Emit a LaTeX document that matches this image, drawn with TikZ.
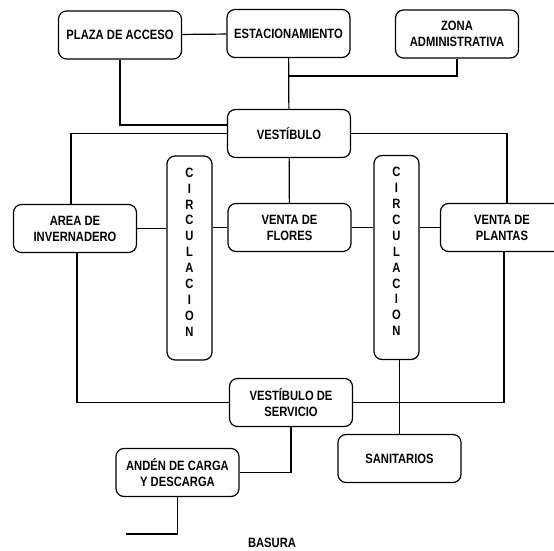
\documentclass[tikz,border=0pt]{standalone}
\usepackage{fontspec}
\setmainfont{Liberation Sans}[FakeStretch=0.83]

\begin{document}
\begin{tikzpicture}[x=1pt, y=-1pt, line width=1.2pt,
  espacio/.style={draw, rounded corners=8pt, minimum width=123pt, minimum height=48pt,
    align=center, inner sep=2pt, font=\bfseries\fontsize{13.5}{16}\selectfont},
  circul/.style={espacio, minimum width=45pt, minimum height=204pt, text depth=12pt,
    font=\bfseries\fontsize{13.5}{15.9}\selectfont}]
\useasboundingbox (0,0) rectangle (554,551);
\node[espacio] (plaza) at (120,35) {PLAZA DE ACCESO};
\node[espacio] (estac) at (288.5,33.5) {ESTACIONAMIENTO};
\node[espacio] (zona) at (457,34) {ZONA\\ADMINISTRATIVA};
\node[espacio] (vest) at (289,133.5) {VESTÍBULO};
\node[circul] (circA) at (189.5,258) {C\\I\\R\\C\\U\\L\\A\\C\\I\\O\\N};
\node[circul] (circB) at (396.5,257.5) {C\\I\\R\\C\\U\\L\\A\\C\\I\\O\\N};
\node[espacio] (area) at (75,228.5) {AREA DE\\INVERNADERO};
\node[espacio] (flores) at (289.5,227.5) {VENTA DE\\FLORES};
\node[espacio] (plantas) at (502,227.5) {VENTA DE\\PLANTAS};
\node[espacio] (vserv) at (291,402.5) {VESTÍBULO DE\\SERVICIO};
\node[espacio] (sanit) at (399.5,458.5) {SANITARIOS};
\node[espacio] (anden) at (177.5,472.5) {ANDÉN DE CARGA\\Y DESCARGA};
\node[font=\bfseries\fontsize{13.5}{16}\selectfont] (basura) at (272,543) {BASURA};
\coordinate (ramal) at (289,76);
\coordinate (basFin) at (126,534);
\draw (plaza) -- (estac);
\draw (plaza.south) |- ([yshift=8.5pt]vest.west);
\draw (estac) -- (vest);
\draw (ramal) -| (zona.south);
\draw (vest.west) -| ([xshift=-4pt]area.north);
\draw (vest.east) -| ([xshift=5pt]plantas.north);
\draw (vest) -- (flores);
\draw (area.east) -- (area.east -| circA.west);
\draw (circA.east |- flores.west) -- (flores.west);
\draw (flores.east) -- (flores.east -| circB.west);
\draw (circB.east |- plantas.west) -- (plantas.west);
\draw ([xshift=2pt]area.south) |- (vserv.west);
\draw ([xshift=2pt]plantas.south) |- (vserv.east);
\draw (sanit.north |- circB.south) -- (sanit.north);
\draw (vserv.south) |- (anden.east);
\draw (anden.south) |- (basFin);
\end{tikzpicture}
\end{document}
